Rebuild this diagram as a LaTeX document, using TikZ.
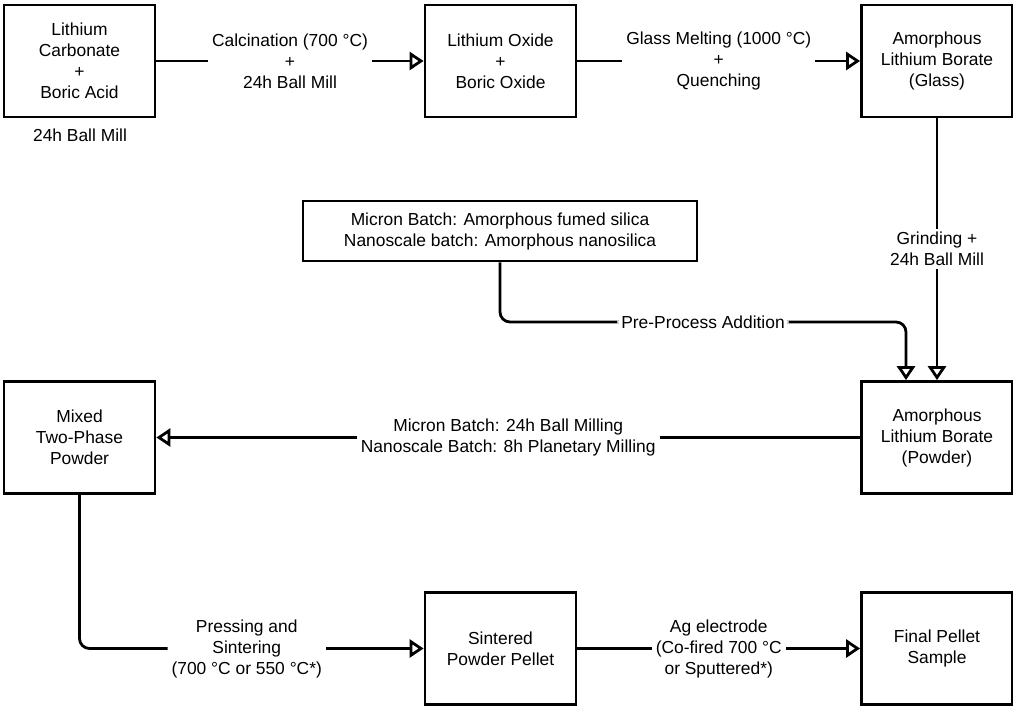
\documentclass[tikz,border=0pt]{standalone}
\usepackage{fontspec}
\setmainfont{Liberation Sans}
\usetikzlibrary{arrows.meta,calc}
\tikzset{
  box/.style={draw, line width=2.8pt, minimum width=151pt, minimum height=112pt, align=center, inner sep=0pt, font=\fontsize{17.4}{21}\selectfont},
  srcbox/.style={draw, line width=2.8pt, minimum width=394pt, minimum height=60pt, align=center, inner sep=0pt, font=\fontsize{17.4}{21}\selectfont},
  lbl/.style={fill=white, align=center, inner xsep=4pt, inner ysep=2pt, font=\fontsize{17.4}{21}\selectfont},
  plain/.style={align=center, inner sep=0pt, font=\fontsize{17.4}{21}\selectfont},
  arr/.style={line width=2.8pt, -{Triangle[open, length=14pt, width=18pt]}},
}
\begin{document}
\begin{tikzpicture}[x=1pt,y=-1pt]
\useasboundingbox (0,0) rectangle (1013,707);
% boxes
\node[box] (b1) at (79.5,61) {Lithium\\Carbonate\\+\\Boric Acid};
\node[box] (b2) at (500.5,61) {Lithium Oxide\\+\\Boric Oxide};
\node[box] (b3) at (937,61) {Amorphous\\Lithium Borate\\(Glass)};
\node[srcbox] (si) at (500,231) {Micron Batch: Amorphous fumed silica\\Nanoscale batch: Amorphous nanosilica};
\node[box] (b4) at (937,437.5) {Amorphous\\Lithium Borate\\(Powder)};
\node[box] (b5) at (79.5,437.5) {Mixed\\Two-Phase\\Powder};
\node[box] (b6) at (500.5,648.5) {Sintered\\Powder Pellet};
\node[box] (b7) at (937,648.5) {Final Pellet\\Sample};
\node[plain] (t1) at (80,135) {24h Ball Mill};
\coordinate (pp) at (906,322);
% connectors
\draw[arr] (b1) -- node[lbl]{Calcination (700 °C)\\+\\24h Ball Mill} (b2);
\draw[arr] (b2) -- node[lbl]{Glass Melting (1000 °C)\\+\\Quenching} (b3);
\draw[arr] (b3) -- node[lbl, inner ysep=3pt]{Grinding +\\24h Ball Mill} (b4);
\draw[arr, rounded corners=10pt] (si.south) |- node[lbl, pos=0.75, inner ysep=0pt]{Pre-Process Addition} (pp) -- (pp |- b4.north);
\draw[arr] (b4) -- node[lbl]{Micron Batch: 24h Ball Milling\\Nanoscale Batch: 8h Planetary Milling} (b5);
\draw[arr, rounded corners=10pt] (b5.south) |- node[lbl, pos=0.743]{Pressing and\\Sintering\\(700 °C or 550 °C*)} (b6.west);
\draw[arr] (b6) -- node[lbl]{Ag electrode\\(Co-fired 700 °C\\or Sputtered*)} (b7);
\end{tikzpicture}
\end{document}
